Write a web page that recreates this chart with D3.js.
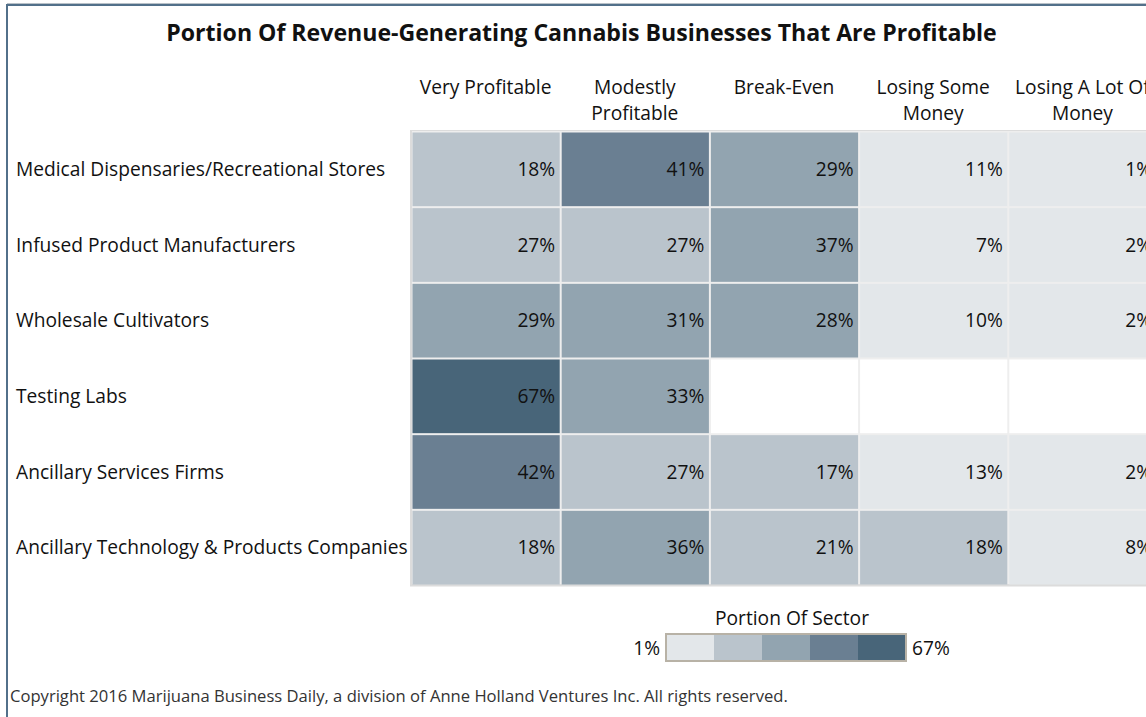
<!DOCTYPE html>
<html>
<head>
<meta charset="utf-8">
<script src="https://cdn.jsdelivr.net/npm/d3@7"></script>
<style>
  html, body { margin: 0; padding: 0; background: #fff; }
  svg { display: block; font-family: "Open Sans", sans-serif; }
</style>
</head>
<body>
<svg id="chart" width="1146" height="717"></svg>
<script>
// ---- data ----
const title = "Portion Of Revenue-Generating Cannabis Businesses That Are Profitable";
const rows = [
  "Medical Dispensaries/Recreational Stores",
  "Infused Product Manufacturers",
  "Wholesale Cultivators",
  "Testing Labs",
  "Ancillary Services Firms",
  "Ancillary Technology & Products Companies"
];
const cols = ["Very Profitable", "Modestly Profitable", "Break-Even", "Losing Some Money", "Losing A Lot Of Money"];
const colLines = [["Very Profitable"], ["Modestly", "Profitable"], ["Break-Even"], ["Losing Some", "Money"], ["Losing A Lot Of", "Money"]];
const veryProfitable     = [18, 27, 29, 67, 42, 18];
const modestlyProfitable = [41, 27, 31, 33, 27, 36];
const breakEven          = [29, 37, 28, null, 17, 21];
const losingSome         = [11, 7, 10, null, 13, 18];
const losingALot         = [1, 2, 2, null, 2, 8];
const series = [veryProfitable, modestlyProfitable, breakEven, losingSome, losingALot];
const colorRange = ["#e3e7ea", "#bac4cc", "#92a4b0", "#6a7f92", "#486579"];
const legendTitle = "Portion Of Sector";
const copyright = "Copyright 2016 Marijuana Business Daily, a division of Anne Holland Ventures Inc. All rights reserved.";

// ---- build ----
const cells = [];
series.forEach((vals, ci) => vals.forEach((v, ri) => cells.push({ row: rows[ri], col: cols[ci], value: v })));

const svg = d3.select("#chart");
const textColor = "#111";
const fs = 19.2;

// frame
svg.append("line").attr("x1", 7).attr("x2", 1146).attr("y1", 3.5).attr("y2", 3.5)
  .attr("stroke", "#b9c1c8").attr("stroke-width", 1);
svg.append("path").attr("d", "M7,717V5H1146").attr("fill", "none")
  .attr("stroke", "#52708a").attr("stroke-width", 2);

// title
svg.append("text").attr("x", 581.5).attr("y", 41).attr("text-anchor", "middle")
  .attr("font-size", 23.1).attr("font-weight", 700).attr("fill", textColor).text(title);

const x = d3.scaleBand().domain(cols).range([411, 1157]);
const y = d3.scaleBand().domain(rows).range([131, 585]);
const values = cells.filter(d => d.value != null).map(d => d.value);
const color = d3.scaleQuantize().domain(d3.extent(values)).range(colorRange);

// table background (gaps)
svg.append("rect").attr("x", 410).attr("y", 130).attr("width", 760).attr("height", 456.5)
  .attr("fill", "#dcdcdc");
svg.append("rect").attr("x", 412).attr("y", 131).attr("width", 760).attr("height", 453)
  .attr("fill", "#eeeeee");

const g = svg.append("g");
g.selectAll("rect.cell").data(cells).join("rect")
  .attr("class", "cell")
  .attr("x", d => x(d.col) + 1.5)
  .attr("y", d => y(d.row) + 1.5)
  .attr("width", x.bandwidth() - 2)
  .attr("height", y.bandwidth() - 2)
  .attr("fill", d => d.value == null ? "#ffffff" : color(d.value));

g.selectAll("text.val").data(cells.filter(d => d.value != null)).join("text")
  .attr("class", "val")
  .attr("x", d => x(d.col) + x.bandwidth() - 5)
  .attr("y", d => y(d.row) + y.bandwidth() / 2 + 7)
  .attr("text-anchor", "end").attr("font-size", fs).attr("fill", textColor)
  .text(d => d.value + "%");

// row labels
svg.selectAll("text.rowlab").data(rows).join("text")
  .attr("class", "rowlab")
  .attr("x", 16)
  .attr("y", d => y(d) + y.bandwidth() / 2 + 7)
  .attr("font-size", fs).attr("fill", textColor)
  .text(d => d);

// column headers
const hdr = svg.selectAll("text.colhdr").data(cols).join("text")
  .attr("class", "colhdr")
  .attr("text-anchor", "middle").attr("font-size", fs).attr("fill", textColor);
hdr.each(function (d, i) {
  d3.select(this).selectAll("tspan").data(colLines[i]).join("tspan")
    .attr("x", x(d) + x.bandwidth() / 2)
    .attr("y", (l, li) => 94 + li * 26)
    .text(l => l);
});

// legend
const lx = d3.scaleBand().domain(colorRange).range([666, 906]);
const lg = svg.append("g");
lg.append("text").attr("x", 792).attr("y", 625).attr("text-anchor", "middle")
  .attr("font-size", fs).attr("fill", textColor).text(legendTitle);
lg.selectAll("rect").data(colorRange).join("rect")
  .attr("x", d => lx(d)).attr("y", 634).attr("width", lx.bandwidth()).attr("height", 27)
  .attr("fill", d => d);
lg.append("rect").attr("x", 666).attr("y", 634).attr("width", 240).attr("height", 27)
  .attr("fill", "none").attr("stroke", "#b8b2a6").attr("stroke-width", 2);
const ext = color.domain();
lg.append("text").attr("x", 660).attr("y", 655).attr("text-anchor", "end")
  .attr("font-size", fs).attr("fill", textColor).text(ext[0] + "%");
lg.append("text").attr("x", 912).attr("y", 655).attr("text-anchor", "start")
  .attr("font-size", fs).attr("fill", textColor).text(ext[1] + "%");

// copyright
svg.append("text").attr("x", 10).attr("y", 702).attr("font-size", 16.6).attr("fill", "#333")
  .text(copyright);
</script>
</body>
</html>
